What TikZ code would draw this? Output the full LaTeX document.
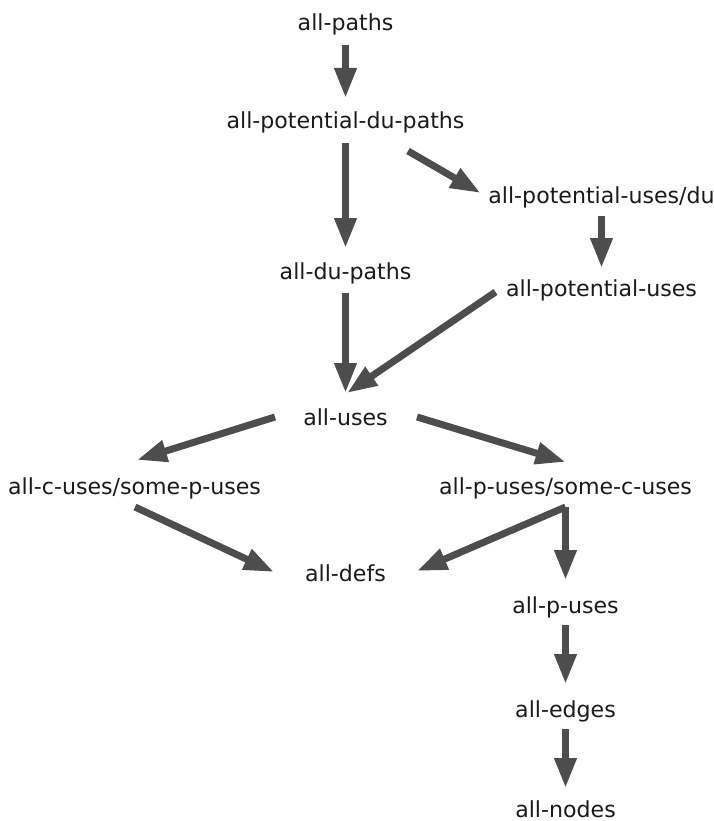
\documentclass[tikz,border=0pt]{standalone}
\usepackage{fontspec}
\setmainfont{DejaVu Sans}
\usetikzlibrary{arrows.meta}
\definecolor{edgegray}{HTML}{4D4D4D}
\definecolor{labelink}{HTML}{1A1A1A}
\tikzset{
  crit/.style={anchor=base, inner sep=0pt, text=labelink,
    font=\fontsize{22.1}{26}\selectfont},
  subsumes/.style={draw=edgegray, line width=7pt,
    -{Triangle[length=30pt,width=21pt]}, color=edgegray},
}
\begin{document}
\begin{tikzpicture}[x=1pt,y=-1pt]
\useasboundingbox (0,0) rectangle (714,821);

% criteria (placed by baseline)
\node[crit] (paths)  at (345.5,31)  {all-paths};
\node[crit] (pdu)    at (345.5,129) {all-potential-du-paths};
\node[crit] (pud)    at (601.5,203) {all-potential-uses/du};
\node[crit] (du)     at (345.5,279) {all-du-paths};
\node[crit] (pu)     at (601.5,296) {all-potential-uses};
\node[crit] (uses)   at (345.5,425) {all-uses};
\node[crit] (cuses)  at (134.5,494) {all-c-uses/some-p-uses};
\node[crit] (puses)  at (565.5,494) {all-p-uses/some-c-uses};
\node[crit] (defs)   at (345.5,581) {all-defs};
\node[crit] (allp)   at (565.5,613) {all-p-uses};
\node[crit] (edges)  at (565.5,717) {all-edges};
\node[crit] (nodes)  at (565.5,817) {all-nodes};

% subsumption edges
\draw[subsumes] ([shift={(0,14)}]paths.base) -- ([shift={(0,-31)}]pdu.base);
\draw[subsumes] ([shift={(0,14)}]pdu.base) -- ([shift={(0,-31)}]du.base);
\draw[subsumes] ([shift={(62.5,22)}]pdu.base) -- ([shift={(-121,-10)}]pud.base);
\draw[subsumes] ([shift={(0,13)}]pud.base) -- ([shift={(0,-28)}]pu.base);
\draw[subsumes] ([shift={(0,14)}]du.base) -- ([shift={(0,-32)}]uses.base);
\draw[subsumes] ([shift={(-106,-4)}]pu.base) -- ([shift={(1.5,-32)}]uses.base);
\draw[subsumes] ([shift={(-70.5,-8)}]uses.base) -- ([shift={(2.5,-34)}]cuses.base);
\draw[subsumes] ([shift={(71.5,-8)}]uses.base) -- ([shift={(0,-32)}]puses.base);
\draw[subsumes] ([shift={(0.5,13)}]cuses.base) -- ([shift={(-71.5,-9)}]defs.base);
\draw[subsumes] ([shift={(0,13)}]puses.base) -- ([shift={(71.5,-10)}]defs.base);
\draw[subsumes] ([shift={(0,13)}]puses.base) -- ([shift={(0,-33)}]allp.base);
\draw[subsumes] ([shift={(0,12)}]allp.base) -- ([shift={(0,-33)}]edges.base);
\draw[subsumes] ([shift={(0,12)}]edges.base) -- ([shift={(0,-29)}]nodes.base);
\end{tikzpicture}
\end{document}
